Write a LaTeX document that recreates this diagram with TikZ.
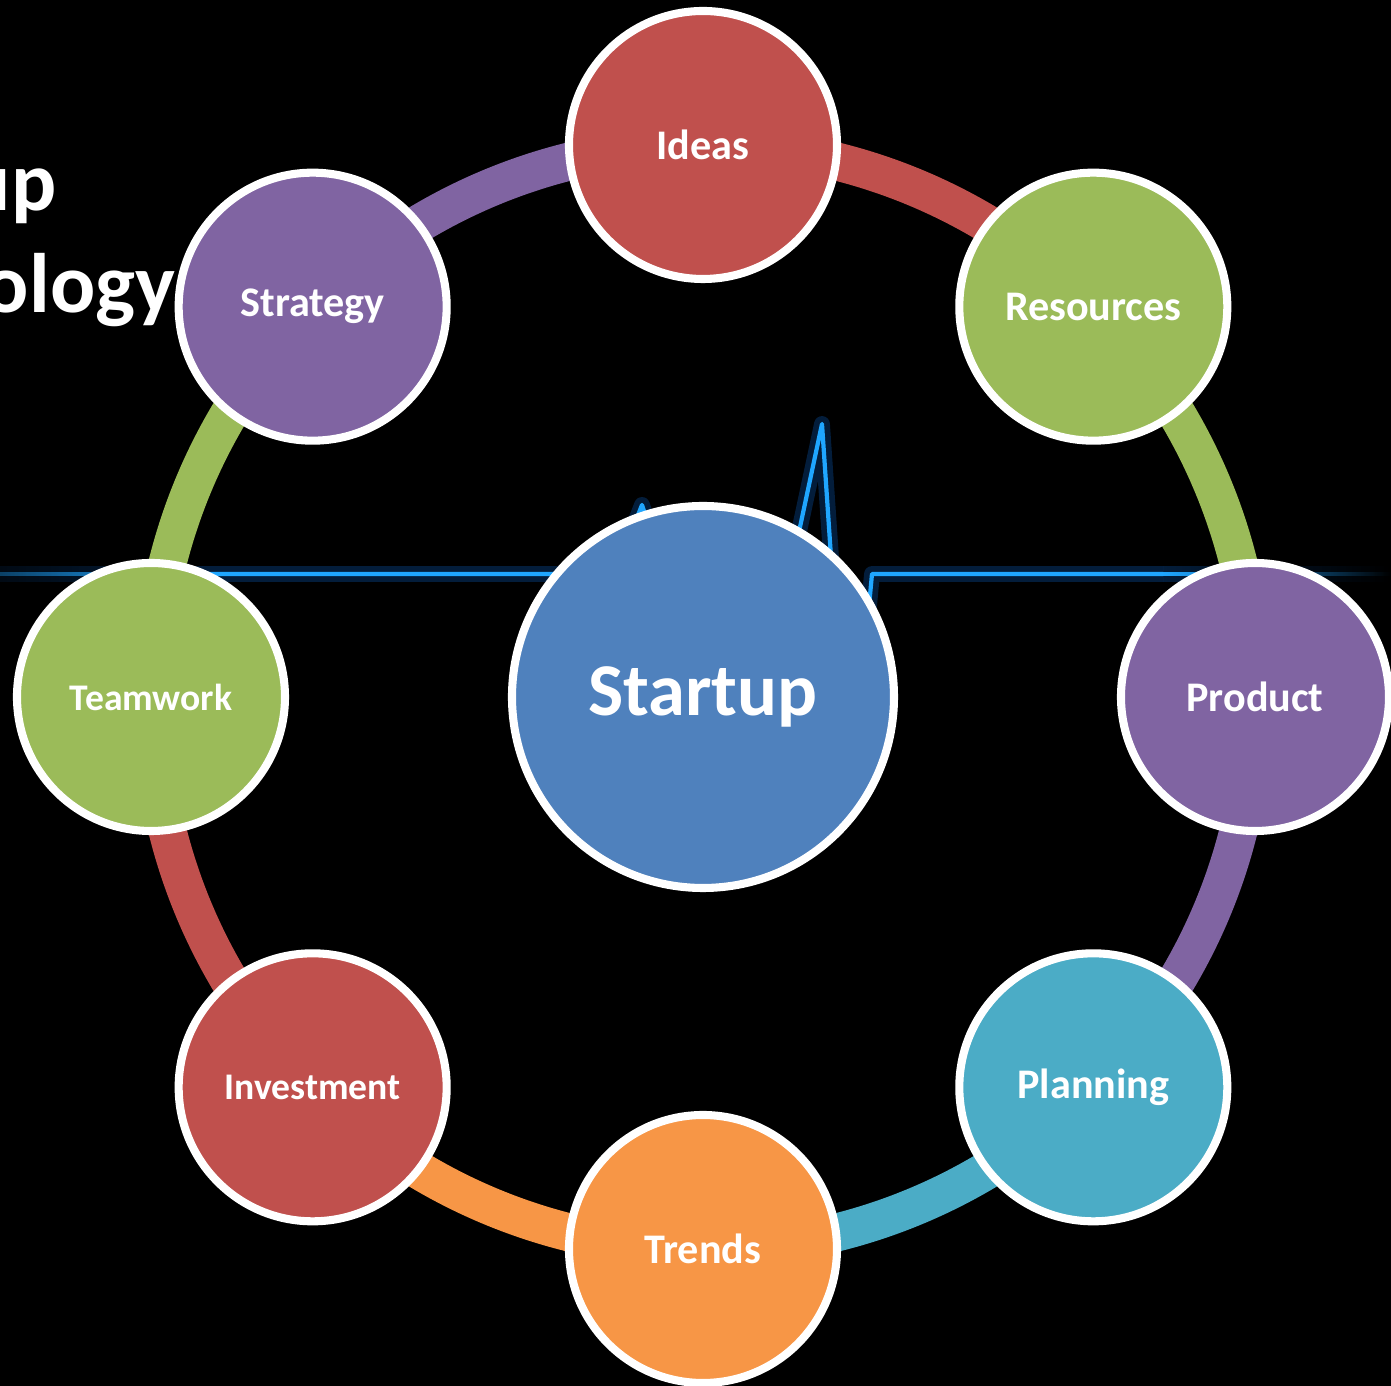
\documentclass[tikz,border=0pt]{standalone}
\usepackage{fontspec}
\setmainfont{Carlito}
\usepackage{xcolor}
\usepackage{tikz}
\usetikzlibrary{backgrounds,fadings}
\definecolor{officered}{HTML}{C0504D}
\definecolor{officegreen}{HTML}{9BBB59}
\definecolor{officepurple}{HTML}{8064A2}
\definecolor{officeteal}{HTML}{4BACC6}
\definecolor{officeorange}{HTML}{F79646}
\definecolor{officeblue}{HTML}{4F81BD}
\definecolor{pulseblue}{HTML}{1FA6FF}
\definecolor{pulseglow}{HTML}{0B62C4}
\tikzfading[name=tailleft, left color=transparent!65, right color=transparent!0]
\tikzfading[name=tailright, left color=transparent!0, right color=transparent!100]

\begin{document}
\begin{tikzpicture}[
        every node/.style={font=\bfseries, text=white, inner sep=0pt},
        hub/.style={circle, draw=white, line width=2.3pt, minimum size=3.82cm, font=\fontsize{21.2}{25}\selectfont\bfseries},
        petal/.style={circle, draw=white, line width=2.3pt, minimum size=2.68cm, font=\fontsize{12}{14}\selectfont\bfseries},
        smalltext/.style={font=\fontsize{10.7}{12}\selectfont\bfseries},
        band/.style={line width=0.38cm, bend left=22.5, looseness=0.885},
        pulse/.style={line width=1.2pt, pulseblue, line join=round},
        glow/.style={line width=4.5pt, pulseglow, opacity=0.3, line join=round},
        titletext/.style={font=\fontsize{24}{28}\selectfont\bfseries, anchor=base east}
    ]

        \useasboundingbox (-7.03,-6.89) rectangle (6.88,6.97);

        % Slide title, cut at the left edge
        \node[titletext] (titleup) at (-6.46,4.86) {up};
        \node[titletext] (titleology) at (-5.27,3.84) {ology};

        % Hub
        \node[hub, fill=officeblue] (startup) at (0,0) {Startup};

        % Ring of topics
        \node[petal, fill=officered] (ideas) at (90:5.52) {Ideas};
        \node[petal, fill=officegreen] (resources) at (45:5.52) {Resources};
        \node[petal, fill=officepurple] (product) at (0:5.52) {Product};
        \node[petal, fill=officeteal] (planning) at (-45:5.52) {Planning};
        \node[petal, fill=officeorange] (trends) at (-90:5.52) {Trends};
        \node[petal, smalltext, fill=officered] (investment) at (-135:5.52) {Investment};
        \node[petal, smalltext, fill=officegreen] (teamwork) at (180:5.52) {Teamwork};
        \node[petal, fill=officepurple] (strategy) at (135:5.52) {Strategy};

        \begin{scope}[on background layer]
            \fill[black] (-7.03,-6.89) rectangle (6.88,6.97);

            % Heartbeat line
            \draw[glow] (-5.0,1.23) -- (-0.88,1.23) -- (-0.61,1.92) -- (-0.38,1.23) -- (0.87,1.23)
                -- (1.19,2.73) -- (1.35,0.37) -- (1.61,0.37) -- (1.69,1.23) -- (4.6,1.23);
            \draw[pulse] (-5.0,1.23) -- (-0.88,1.23) -- (-0.61,1.92) -- (-0.38,1.23) -- (0.87,1.23)
                -- (1.19,2.73) -- (1.35,0.37) -- (1.61,0.37) -- (1.69,1.23) -- (4.6,1.23);
            \fill[pulseglow, opacity=0.3, path fading=tailleft] (-7.03,1.15) rectangle (-5.0,1.31);
            \fill[pulseblue, path fading=tailleft] (-7.03,1.21) rectangle (-5.0,1.25);
            \fill[pulseglow, opacity=0.3, path fading=tailright] (4.6,1.15) rectangle (6.88,1.31);
            \fill[pulseblue, path fading=tailright] (4.6,1.21) rectangle (6.88,1.25);

            % Bands between neighbours
            \draw[band, officered] (ideas.center) to (resources.center);
            \draw[band, officegreen] (resources.center) to (product.center);
            \draw[band, officepurple] (product.center) to (planning.center);
            \draw[band, officeteal] (planning.center) to (trends.center);
            \draw[band, officeorange] (trends.center) to (investment.center);
            \draw[band, officered] (investment.center) to (teamwork.center);
            \draw[band, officegreen] (teamwork.center) to (strategy.center);
            \draw[band, officepurple] (strategy.center) to (ideas.center);
        \end{scope}

    \end{tikzpicture}
\end{document}
